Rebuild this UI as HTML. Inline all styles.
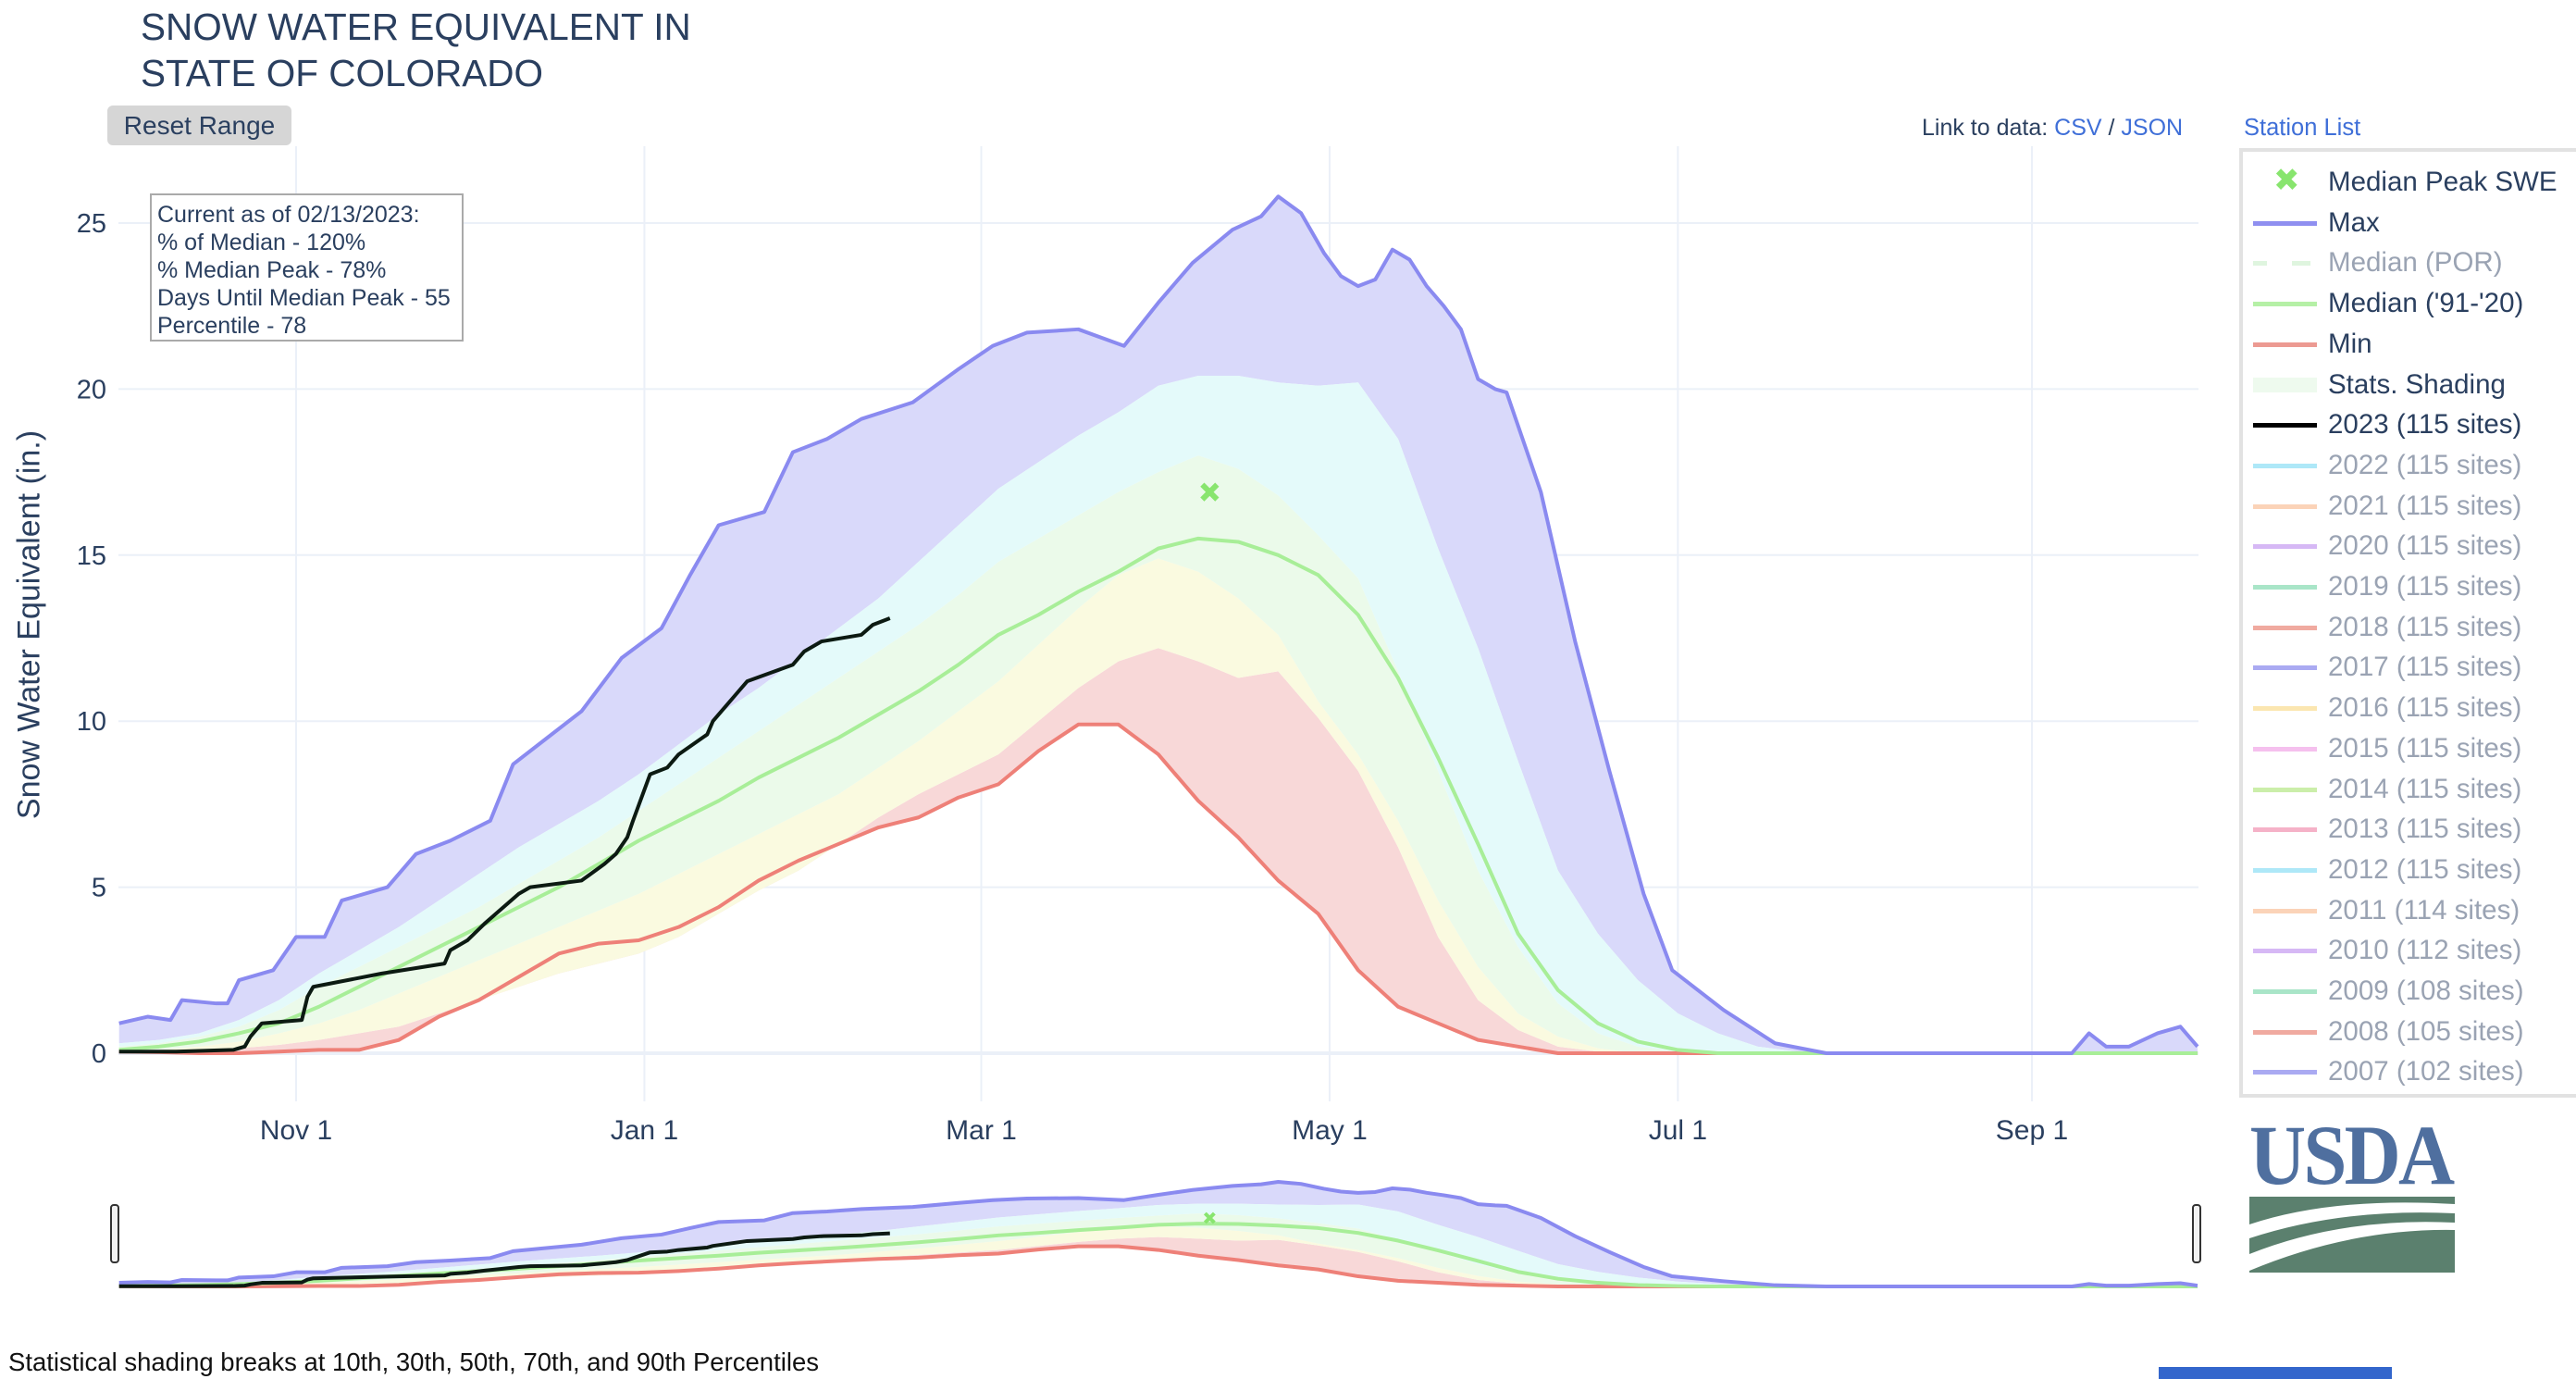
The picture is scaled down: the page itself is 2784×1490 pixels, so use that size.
<!DOCTYPE html>
<html><head><meta charset="utf-8">
<style>
html,body{margin:0;padding:0;background:#fff;}
body{width:2784px;height:1490px;position:relative;overflow:hidden;font-family:"Liberation Sans","DejaVu Sans",sans-serif;color:#2a3f5f;}
.abs{position:absolute;white-space:nowrap;}
</style></head><body>
<svg id="chart" width="2784" height="1490" style="position:absolute;left:0;top:0" xmlns="http://www.w3.org/2000/svg">
<g id="grid"></g>
<g id="bands"></g>
<g id="lines"></g>
<g id="mini"></g>
<g id="axes"></g>
</svg>

<div class="abs" style="left:152px;top:4px;font-size:40.5px;line-height:50px;color:#2a3f5f;">SNOW WATER EQUIVALENT IN<br>STATE OF COLORADO</div>
<div class="abs" style="left:116px;top:114px;width:199px;height:43px;background:#d6d6d6;border-radius:6px;font-size:28px;line-height:43px;text-align:center;color:#2a3f5f;">Reset Range</div>
<div class="abs" style="left:162px;top:209px;width:339px;height:160px;border:2px solid #aaa;background:#fff;font-size:25px;line-height:30px;padding:6px 0 0 6px;box-sizing:border-box;color:#2a3f5f;">Current as of 02/13/2023:<br>% of Median - 120%<br>% Median Peak - 78%<br>Days Until Median Peak - 55<br>Percentile - 78</div>
<div class="abs" style="left:32px;top:675px;font-size:34px;transform:translate(-50%,-50%) rotate(-90deg);">Snow Water Equivalent (in.)</div>
<div class="abs" style="left:2077px;top:124px;font-size:25px;">Link to data: <span style="color:#3f6fd8">CSV</span> / <span style="color:#3f6fd8">JSON</span></div>
<div class="abs" style="left:2425px;top:124px;font-size:25.5px;color:#3f6fd8;">Station List</div>
<div class="abs" style="left:2420px;top:160px;width:380px;height:1026px;border:4px solid #e2e2e2;box-sizing:border-box;background:#fff;"></div>
<div id="legend"></div>
<div class="abs" style="left:9px;top:1456px;font-size:27.5px;color:#111;">Statistical shading breaks at 10th, 30th, 50th, 70th, and 90th Percentiles</div>
<div class="abs" style="left:2333px;top:1477px;width:252px;height:13px;background:#3366cc;"></div>
<div class="abs" style="left:2431px;top:1205px;width:222px;height:170px;">
<div style="font-family:'Liberation Serif',serif;font-size:92px;font-weight:bold;color:#4f6f9f;line-height:86px;letter-spacing:-3px;transform:scaleX(0.92);transform-origin:left;">USDA</div>
<svg width="222" height="82" style="position:absolute;left:0;top:88px"><rect x="0" y="0" width="222" height="82" fill="#5b806e"/><path d="M0 30 Q90 0 222 8 L222 18 Q100 12 0 45 Z" fill="#fff"/><path d="M0 62 Q100 22 222 28 L222 36 Q110 34 0 80 Z" fill="#fff"/></svg>
</div>

<script>
const days = [0,7,14,21,28,35,42,49,56,63,70,77,84,91,98,105,112,119,126,133,140,147,154,161,168,175,182,189,196,203,210,217,224,231,238,245,252,259,266,273,280,287,294,301,308,315,322,329,336,343,350,357,364];
const maxDays = [0,5,9,11,17,19,21,27,31,36,39,47,52,58,65,69,75,81,88,95,100,105,113,118,124,130,139,147,153,159,168,176,182,188,195,200,203,207,211,214,217,220,223,226,229,232,235,238,241,243,249,255,261,267,272,281,290,299,310,330,342,345,348,352,357,361,364];
const maxV = [0.9,1.1,1.0,1.6,1.5,1.5,2.2,2.5,3.5,3.5,4.6,5.0,6.0,6.4,7.0,8.7,9.5,10.3,11.9,12.8,14.4,15.9,16.3,18.1,18.5,19.1,19.6,20.6,21.3,21.7,21.8,21.3,22.6,23.8,24.8,25.2,25.8,25.3,24.1,23.4,23.1,23.3,24.2,23.9,23.1,22.5,21.8,20.3,20.0,19.9,16.9,12.4,8.5,4.8,2.5,1.3,0.3,0,0,0,0,0.6,0.2,0.2,0.6,0.8,0.2];
const p90 = [0.3,0.4,0.6,1.0,1.6,2.4,3.1,3.8,4.6,5.4,6.2,6.9,7.6,8.4,9.3,10.2,11.0,11.9,12.8,13.7,14.8,15.9,17.0,17.8,18.6,19.3,20.1,20.4,20.4,20.2,20.1,20.2,18.5,15.2,12.2,8.8,5.5,3.6,2.2,1.2,0.6,0.2,0.05,0,0,0,0,0,0,0,0,0,0];
const p70 = [0.2,0.3,0.5,0.8,1.3,2.0,2.6,3.2,3.8,4.4,5.1,5.8,6.5,7.3,8.1,8.9,9.7,10.5,11.3,12.1,12.9,13.8,14.8,15.5,16.2,16.9,17.5,18.0,17.6,16.8,15.6,14.3,11.5,8.5,5.5,3.2,1.5,0.6,0.2,0.05,0,0,0,0,0,0,0,0,0,0,0,0,0];
const median = [0.1,0.2,0.35,0.6,0.9,1.4,2.0,2.6,3.2,3.8,4.4,5.0,5.7,6.4,7.0,7.6,8.3,8.9,9.5,10.2,10.9,11.7,12.6,13.2,13.9,14.5,15.2,15.5,15.4,15.0,14.4,13.2,11.3,8.9,6.3,3.6,1.9,0.9,0.35,0.1,0,0,0,0,0,0,0,0,0,0,0,0,0];
const p30 = [0.05,0.1,0.2,0.35,0.6,0.9,1.3,1.8,2.3,2.8,3.3,3.8,4.3,4.8,5.4,6.0,6.6,7.2,7.8,8.6,9.4,10.3,11.2,12.3,13.4,14.4,14.9,14.5,13.7,12.6,10.6,9.0,7.0,4.6,2.6,1.2,0.5,0.15,0,0,0,0,0,0,0,0,0,0,0,0,0,0,0];
const p10 = [0,0.05,0.1,0.15,0.25,0.4,0.6,0.8,1.2,1.6,2.0,2.4,2.7,3.0,3.5,4.2,4.9,5.5,6.3,7.1,7.8,8.4,9.0,10.0,11.0,11.8,12.2,11.8,11.3,11.5,10.1,8.5,6.2,3.5,1.6,0.7,0.2,0.05,0,0,0,0,0,0,0,0,0,0,0,0,0,0,0];
const minV = [0.05,0.03,0,0,0.05,0.1,0.1,0.4,1.1,1.6,2.3,3.0,3.3,3.4,3.8,4.4,5.2,5.8,6.3,6.8,7.1,7.7,8.1,9.1,9.9,9.9,9.0,7.6,6.5,5.2,4.2,2.5,1.4,0.9,0.4,0.2,0,0,0,0,0,0,0,0,0,0,0,0,0,0,0,0,0];
const curDays = [0,10,20,22,23,25,32,33,34,46,57,58,61,64,66,70,72,81,85,87,89,90,93,96,98,103,104,108,110,118,120,123,130,132,135];
const curV = [0.05,0.05,0.1,0.2,0.5,0.9,1.0,1.7,2.0,2.4,2.7,3.1,3.4,3.9,4.2,4.8,5.0,5.2,5.7,6.0,6.5,7.0,8.4,8.6,9.0,9.6,10.0,10.8,11.2,11.7,12.1,12.4,12.6,12.9,13.1];
const peakDay = [191];
const peakV = [16.9];
const yTicks = [0,5,10,15,20,25];
const xTickDays = [31,92,151,212,273,335];
const xTickLabels = ["Nov 1","Jan 1","Mar 1","May 1","Jul 1","Sep 1"];

const NS="http://www.w3.org/2000/svg";
const xs = d => 128.7 + d*6.171;
const ys = v => 1138 - v*35.88;
const ym = v => 1390 - v*4.38;
function mk(tag, attrs, parent){const e=document.createElementNS(NS,tag);for(const k in attrs)e.setAttribute(k,attrs[k]);parent.appendChild(e);return e;}
const grid=document.getElementById('grid'), bands=document.getElementById('bands'), lines=document.getElementById('lines'), mini=document.getElementById('mini'), axes=document.getElementById('axes');

xTickDays.forEach((d,i)=>{
  const l=mk('line',{x1:xs(d),x2:xs(d),y1:158,y2:1190,stroke:'#ebf0f8','stroke-width':2},grid);
  
  
  const t=mk('text',{x:xs(d),y:1231,'font-size':30,'text-anchor':'middle',fill:'#2a3f5f','font-family':'Liberation Sans, sans-serif'},axes);
  t.textContent=xTickLabels[i];
  
  
});
yTicks.forEach(v=>{
  const l=mk('line',{x1:128,x2:2376,y1:ys(v),y2:ys(v),stroke:'#ebf0f8','stroke-width':v===0?4:2},grid);
  
  
  const t=mk('text',{x:115,y:ys(v)+10,'font-size':29,'text-anchor':'end',fill:'#2a3f5f','font-family':'Liberation Sans, sans-serif'},axes);
  t.textContent=String(v);
  
  
});

function interp(dd,vv,d){if(d<=dd[0])return vv[0];for(let i=1;i<dd.length;i++){if(d<=dd[i]){const t=(d-dd[i-1])/(dd[i]-dd[i-1]);return vv[i-1]+t*(vv[i]-vv[i-1]);}}return vv[vv.length-1];}
const bandDefs=[[minV,p10,'#f8d8d8','band-min-p10'],[p10,p30,'#fafae0','band-p10-p30'],[p30,p70,'#ebfaea','band-p30-p70'],[p70,p90,'#e4fafa','band-p70-p90']];
function poly(lo,hi,yf){let s=days.map((d,i)=>xs(d)+','+yf(hi[i])).join(' ');s+=' '+days.slice().reverse().map((d,j)=>{const i=days.length-1-j;return xs(d)+','+yf(lo[i]);}).join(' ');return s;}
function path(dd,vv,yf){return dd.map((d,i)=>xs(d)+','+yf(vv[i])).join(' ');}
function drawAll(g,yf,sw,isMini){
  // top band: p90 to max
  let s=maxDays.map((d,i)=>xs(d)+','+yf(maxV[i])).join(' ');
  s+=' '+days.slice().reverse().map((d,j)=>{const i=days.length-1-j;return xs(d)+','+yf(p90[i]);}).join(' ');
  const tb=mk('polygon',{points:s,fill:'#d9d9fa'},g);
  
  
  bandDefs.forEach(b=>{
    const p=mk('polygon',{points:poly(b[0],b[1],yf),fill:b[2]},g);
    
    
  });
  const ld=[[days,minV,'#ee8078','min-line'],[days,median,'#a8ee98','median-line'],[maxDays,maxV,'#8a8af0','max-line']];
  ld.forEach(l=>{
    const e=mk('polyline',{points:path(l[0],l[1],yf),fill:'none',stroke:l[2],'stroke-width':sw,'stroke-linejoin':'round'},g);
    
    
  });
  const c=mk('polyline',{points:path(curDays,curV,yf),fill:'none',stroke:'#0c1a12','stroke-width':sw,'stroke-linejoin':'round'},g);
  
  
  const px=xs(peakDay[0]), py=yf(peakV[0]), r=isMini?5:8;
  const m=mk('path',{d:`M${px-r},${py-r}L${px+r},${py+r}M${px+r},${py-r}L${px-r},${py+r}`,stroke:'#88e56e','stroke-width':isMini?4:6},g);
  
  
}
drawAll(lines,ys,4,false);
drawAll(mini,ym,4,true);
[124,2374].forEach((x,i)=>{
  const h=mk('rect',{x:x-4,y:1302,width:8,height:62,rx:3,fill:'#f2f2f2',stroke:'#333','stroke-width':2},mini);
  
  
});

const legendItems=[
 ['x','#88e56e','Median Peak SWE',1],['l','#8f8ff0','Max',1],['d','#dff5df','Median (POR)',0],['l','#b5f0a6',"Median ('91-'20)",1],['l','#ec9a92','Min',1],['r','#eefaee','Stats. Shading',1],['l','#000','2023 (115 sites)',1],
 ['l','#aee8f8','2022 (115 sites)',0],['l','#fbd3b8','2021 (115 sites)',0],['l','#d6b8f5','2020 (115 sites)',0],['l','#a9e5c8','2019 (115 sites)',0],['l','#f0aaa0','2018 (115 sites)',0],['l','#aaaaf2','2017 (115 sites)',0],['l','#fbe6b0','2016 (115 sites)',0],['l','#f5c0ee','2015 (115 sites)',0],['l','#cbeeaa','2014 (115 sites)',0],['l','#f5b2c8','2013 (115 sites)',0],['l','#aee8f8','2012 (115 sites)',0],['l','#fbd3b8','2011 (114 sites)',0],['l','#d6b8f5','2010 (112 sites)',0],['l','#a9e5c8','2009 (108 sites)',0],['l','#f0aaa0','2008 (105 sites)',0],['l','#aaaaf2','2007 (102 sites)',0]];
const leg=document.getElementById('legend');
legendItems.forEach((it,i)=>{
  const y=197+i*43.7;
  const d=document.createElement('div');
  d.className='abs';
  
  
  d.style.cssText=`left:2435px;top:${y-20}px;height:40px;width:340px;`;
  let sw='';
  if(it[0]==='l') sw=`<div style="position:absolute;left:0;top:18px;width:69px;height:5px;background:${it[1]}"></div>`;
  else if(it[0]==='d') sw=`<div style="position:absolute;left:0;top:18px;width:15px;height:5px;background:${it[1]}"></div><div style="position:absolute;left:42px;top:18px;width:20px;height:5px;background:${it[1]}"></div>`;
  else if(it[0]==='r') sw=`<div style="position:absolute;left:0;top:12px;width:69px;height:16px;background:${it[1]}"></div>`;
  else sw=`<div style="position:absolute;left:22px;top:-2px;font-size:34px;font-weight:bold;color:${it[1]};line-height:40px">✖</div>`;
  d.innerHTML=sw+`<div style="position:absolute;left:81px;top:0;font-size:29.5px;line-height:40px;color:${it[3]?'#2a3f5f':'#9aa3b3'}">${it[2]}</div>`;
  leg.appendChild(d);
});
</script>
</body></html>
